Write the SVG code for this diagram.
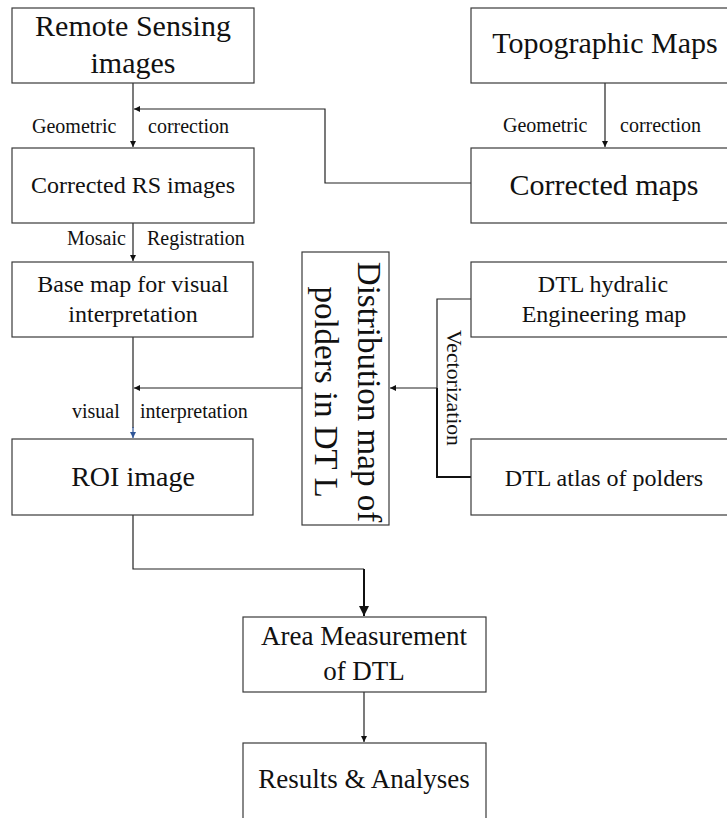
<svg xmlns="http://www.w3.org/2000/svg" width="727" height="818" viewBox="0 0 727 818">
<defs>
<style>
.box{fill:#fff;stroke:#3a3a3a;stroke-width:1.2}
.t{font-family:"Liberation Serif","Times New Roman",serif;fill:#111;text-anchor:middle}
.lbl{font-family:"Liberation Serif","Times New Roman",serif;fill:#111;font-size:20px}
.c{fill:none;stroke:#222;stroke-width:1.2}
</style>
<marker id="ah" viewBox="0 0 10 10" refX="10" refY="5" markerWidth="6" markerHeight="6" markerUnits="userSpaceOnUse" orient="auto"><path d="M0,0 L10,5 L0,10 z" fill="#111"/></marker>
<marker id="ahb" viewBox="0 0 10 10" refX="10" refY="5" markerWidth="6" markerHeight="6" markerUnits="userSpaceOnUse" orient="auto"><path d="M0,0 L10,5 L0,10 z" fill="#2f5597"/></marker>
<marker id="ahL" viewBox="0 0 10 10" refX="10" refY="5" markerWidth="11" markerHeight="10" markerUnits="userSpaceOnUse" orient="auto"><path d="M0,0 L10,5 L0,10 z" fill="#111"/></marker>
</defs>
<rect width="727" height="818" fill="#fff"/>
<g id="connectors">
<line class="c" x1="133" y1="83" x2="133" y2="147" marker-end="url(#ah)"/>
<polyline class="c" points="471,183 325,183 325,109 134,109" marker-end="url(#ah)"/>
<line class="c" x1="605" y1="83" x2="605" y2="147" marker-end="url(#ah)"/>
<line class="c" x1="133" y1="223" x2="133" y2="261" marker-end="url(#ah)"/>
<line class="c" x1="133" y1="337" x2="133" y2="428"/>
<line x1="133" y1="427" x2="133" y2="438" stroke="#2f5597" stroke-width="1.2" marker-end="url(#ahb)"/>
<line class="c" x1="302" y1="388" x2="134" y2="388" marker-end="url(#ah)"/>
<polyline class="c" points="471,299 437,299 437,388"/>
<polyline fill="none" stroke="#111" stroke-width="2" points="437,388 437,477 471,477"/>
<line class="c" x1="437" y1="388" x2="390" y2="388" marker-end="url(#ah)"/>
<polyline class="c" points="133,515 133,569 364,569"/>
<line x1="364" y1="569" x2="364" y2="616" stroke="#111" stroke-width="2" marker-end="url(#ahL)"/>
<line class="c" x1="364" y1="692" x2="364" y2="742" marker-end="url(#ah)"/>
<text class="lbl" x="32" y="133">Geometric</text>
<text class="lbl" x="148" y="133">correction</text>
<text class="lbl" x="503" y="132">Geometric</text>
<text class="lbl" x="620" y="132">correction</text>
<text class="lbl" x="67" y="245">Mosaic</text>
<text class="lbl" x="147" y="245">Registration</text>
<text class="lbl" x="72" y="418">visual</text>
<text class="lbl" x="140" y="418">interpretation</text>
<text class="lbl" transform="translate(447,388) rotate(90)" text-anchor="middle" font-size="19" textLength="116" lengthAdjust="spacingAndGlyphs">Vectorization</text>
</g>
<g id="n1"><rect class="box" x="12" y="8" width="242" height="75"/>
<text class="t" font-size="30" x="133" y="36">Remote Sensing</text>
<text class="t" font-size="30" x="133" y="73">images</text></g>
<g id="n2"><rect class="box" x="471" y="8" width="270" height="75"/>
<text class="t" font-size="30" x="605" y="53">Topographic Maps</text></g>
<g id="n3"><rect class="box" x="12" y="148" width="242" height="75"/>
<text class="t" font-size="24" x="133" y="193">Corrected RS images</text></g>
<g id="n4"><rect class="box" x="471" y="148" width="270" height="75"/>
<text class="t" font-size="30" x="604" y="195">Corrected maps</text></g>
<g id="n5"><rect class="box" x="12" y="262" width="241" height="75"/>
<text class="t" font-size="24" x="133" y="292">Base map for visual</text>
<text class="t" font-size="24" x="133" y="322">interpretation</text></g>
<g id="n6"><rect class="box" x="471" y="262" width="270" height="75"/>
<text class="t" font-size="24" x="603" y="292">DTL hydralic</text>
<text class="t" font-size="24" x="604" y="322">Engineering map</text></g>
<g id="n7"><rect class="box" x="302" y="252" width="87" height="273"/>
<g transform="translate(345.5,388.5) rotate(90)">
<text class="t" font-size="33" x="3.5" y="-12.5">Distribution map of</text>
<text class="t" font-size="33" x="3.5" y="30.5">polders in DT L</text></g></g>
<g id="n8"><rect class="box" x="471" y="439" width="270" height="76"/>
<text class="t" font-size="24" x="604" y="486">DTL atlas of polders</text></g>
<g id="n9"><rect class="box" x="12" y="439" width="241" height="76"/>
<text class="t" font-size="28" x="133" y="486">ROI image</text></g>
<g id="n10"><rect class="box" x="243" y="617" width="243" height="75"/>
<text class="t" font-size="27" x="364" y="645">Area Measurement</text>
<text class="t" font-size="27" x="364" y="680">of DTL</text></g>
<g id="n11"><rect class="box" x="243" y="743" width="243" height="90"/>
<text class="t" font-size="27" x="364" y="788">Results &amp; Analyses</text></g>
</svg>
